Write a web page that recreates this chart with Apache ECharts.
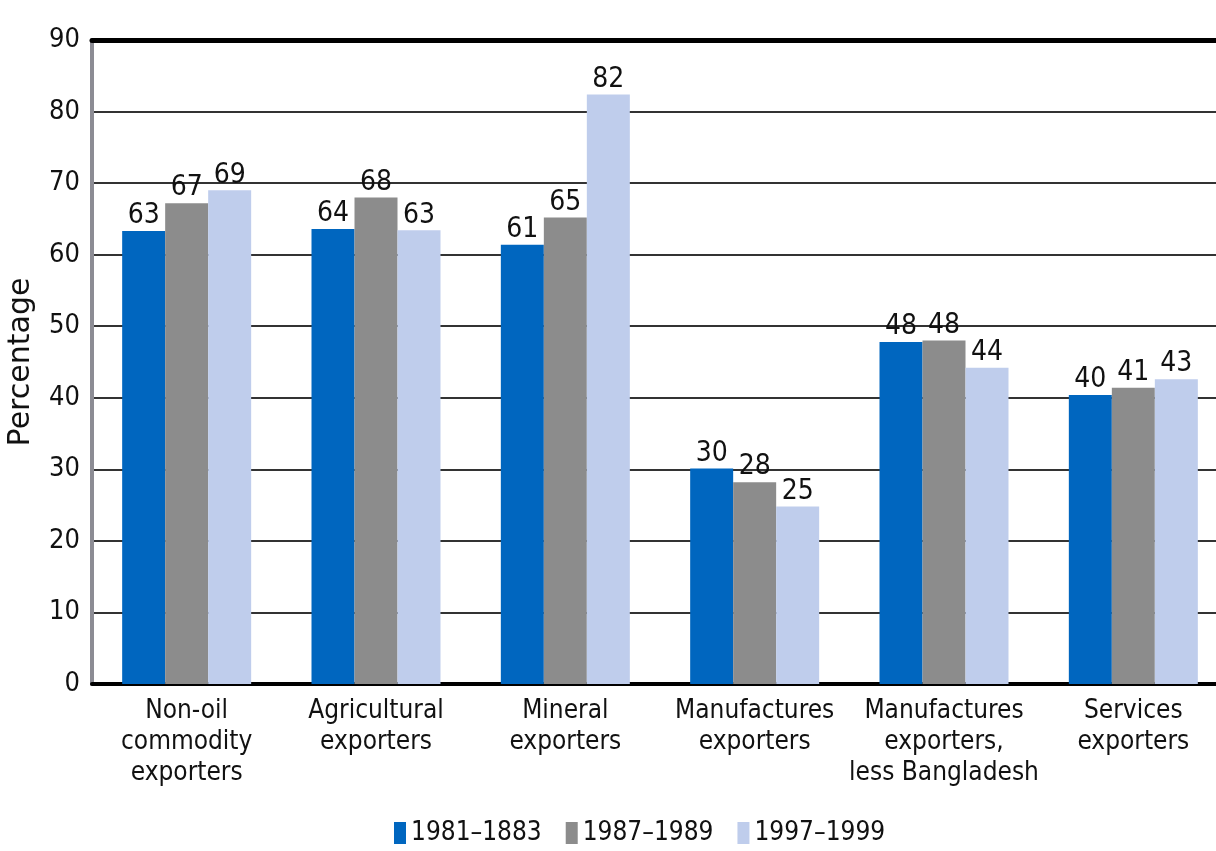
<!DOCTYPE html>
<html>
<head>
<meta charset="utf-8">
<script src="https://cdn.jsdelivr.net/npm/echarts@6/dist/echarts.min.js"></script>
<style>
  html, body { margin: 0; padding: 0; background: #fff; }
  #chart { width: 1216px; height: 851px; }
</style>
</head>
<body>
<div id="chart"></div>
<script>
// categories and values
const categories = [
  'Non-oil\ncommodity\nexporters',
  'Agricultural\nexporters',
  'Mineral\nexporters',
  'Manufactures\nexporters',
  'Manufactures\nexporters,\nless Bangladesh',
  'Services\nexporters'
]
const p1981 = [63.3, 63.6, 61.4, 30.1, 47.8, 40.4]
const p1987 = [67.2, 68.0, 65.2, 28.2, 48.0, 41.4]
const p1997 = [69.0, 63.4, 82.4, 24.8, 44.2, 42.6]
const seriesNames = ['1981–1883', '1987–1989', '1997–1999']
const colors = ['#0066bf', '#8c8c8c', '#bfcdec']

const narrow = '"Liberation Sans Narrow", "DejaVu Sans Condensed", sans-serif'

const makeSeries = (name, data, color) => ({
  name: name,
  type: 'bar',
  data: data,
  barWidth: 43,
  barGap: '0%',
  itemStyle: { color: color },
  label: {
    show: true,
    position: 'top',
    distance: 1,
    color: '#111',
    fontFamily: narrow,
    fontSize: 28,
    formatter: (p) => Math.round(p.value)
  }
})

const chart = echarts.init(document.getElementById('chart'))
chart.setOption({
  animation: false,
  color: colors,
  grid: { left: 92, right: -12, top: 40, bottom: 167, outerBoundsMode: 'none' },
  legend: {
    bottom: 0,
    left: 389,
    itemWidth: 12,
    itemHeight: 22,
    itemGap: 24,
    icon: 'rect',
    textStyle: { fontFamily: narrow, fontSize: 26, color: '#111' },
    data: seriesNames
  },
  xAxis: [
    {
      type: 'category',
      data: categories,
      axisLine: { lineStyle: { color: '#000', width: 4 } },
      axisTick: { show: false },
      axisLabel: {
        interval: 0,
        margin: 12,
        fontFamily: narrow,
        fontSize: 26,
        lineHeight: 31,
        color: '#111'
      }
    },
    {
      type: 'category',
      position: 'top',
      data: categories,
      axisLine: { lineStyle: { color: '#000', width: 5 } },
      axisTick: { show: false },
      axisLabel: { show: false }
    }
  ],
  yAxis: {
    type: 'value',
    min: 0,
    max: 90,
    interval: 10,
    name: 'Percentage',
    nameLocation: 'middle',
    nameGap: 56,
    nameTextStyle: { fontFamily: 'DejaVu Sans', fontSize: 30, color: '#111' },
    axisLine: { show: true, lineStyle: { color: '#8c8c94', width: 4 } },
    axisTick: { show: false },
    axisLabel: { fontFamily: narrow, fontSize: 27, color: '#111', margin: 12 },
    splitLine: { lineStyle: { color: '#333', width: 2 } }
  },
  series: [
    makeSeries(seriesNames[0], p1981, colors[0]),
    makeSeries(seriesNames[1], p1987, colors[1]),
    makeSeries(seriesNames[2], p1997, colors[2])
  ]
})
</script>
</body>
</html>
